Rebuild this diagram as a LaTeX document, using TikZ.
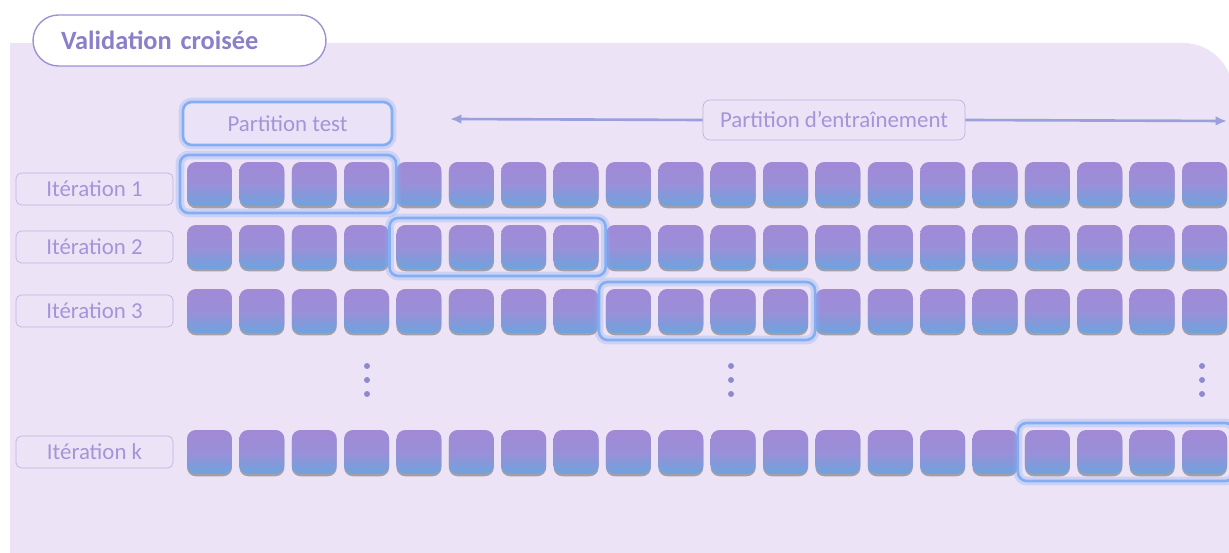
\documentclass[tikz,border=0pt]{standalone}
\usepackage{fontspec}
\setmainfont{Carlito}
\usetikzlibrary{fit,shadows,arrows.meta}
\definecolor{panelbg}{HTML}{EDE3F6}
\definecolor{titleline}{HTML}{9E92D3}
\definecolor{titletext}{HTML}{8A80CA}
\definecolor{labline}{HTML}{BAB5E4}
\definecolor{labtext}{HTML}{A395D8}
\definecolor{glowblue}{HTML}{84AEF4}
\definecolor{testfill}{HTML}{EAE2F7}
\definecolor{arrowcol}{HTML}{9AA0DC}
\definecolor{celltop}{HTML}{A189D6}
\definecolor{cellmid}{HTML}{9A8FD8}
\definecolor{cellbot}{HTML}{6EA3DD}
\definecolor{dotcol}{HTML}{8E8AD0}
\begin{document}
\begin{tikzpicture}[x=0.02cm,y=-0.02cm,
    every node/.style={font=\fontsize{13}{15}\selectfont},
    titlebox/.style={draw=titleline,line width=0.8pt,fill=white,rounded corners=0.51cm,
        minimum width=5.86cm,minimum height=1.02cm,text width=4.74cm,align=left,
        inner xsep=0.56cm,text=titletext,font=\fontsize{15}{17}\selectfont\bfseries},
    glowbox/.style={draw=glowblue,line width=1.5pt,rounded corners=5pt,
        preaction={draw=glowblue,draw opacity=0.3,line width=5pt}},
    groupbox/.style={glowbox,inner sep=3.8pt},
    trainbox/.style={draw=labline,fill=panelbg,rounded corners=4pt,text=labtext,
        minimum width=5.24cm,minimum height=0.8cm},
    trainline/.style={draw=arrowcol,line width=1.5pt},
    iterbox/.style={draw=labline,fill=panelbg,rounded corners=3pt,text=labtext,
        minimum width=3.14cm,minimum height=0.64cm,inner sep=0pt},
    cell/.style={minimum width=0.9cm,minimum height=0.88cm,inner sep=0pt,rounded corners=5pt,
        top color=celltop,bottom color=cellbot,middle color=cellmid,
        drop shadow={shadow xshift=0pt,shadow yshift=-1.3pt,opacity=0.45,fill=black!70}}]
\def\pitch{52.37}
\useasboundingbox (0,0) rectangle (1229,553);
\clip (0,0) rectangle (1229,553);
% fond
\fill[panelbg,rounded corners=1cm] (10,43) rectangle (1233,595);
\fill[panelbg] (10,43) rectangle (600,595);
\node[titlebox] (title) at (179.5,40.5) {Validation croisée};
\node[glowbox,fill=testfill,text=labtext,minimum width=4.18cm,minimum height=0.86cm]
    (test) at (287.5,123.5) {Partition test};
\node[trainbox] (train) at (834,120) {Partition d’entraînement};
\coordinate (trainL) at (450,119);
\coordinate (trainR) at (1227,121);
\draw[trainline,-{Latex[length=6.5pt,width=5.5pt]}] (train.west) -- (trainL);
\draw[trainline,-{Latex[length=6.5pt,width=5.5pt]}] (train.east) -- (trainR);
% iterations
\foreach \r/\y/\ly in {1/184/189,2/247/247,3/311/311,k/452/452}
    {\node[iterbox] (it\r) at (94.5,\ly) {Itération \r};
     \foreach \i in {1,...,20}
        {\node[cell] (c\r-\i) at ({209.5+(\i-1)*\pitch},\y) {};}}
\foreach \r/\a/\b in {1/1/4,2/5/8,3/9/12,k/17/20}
    {\node[groupbox,fit=(c\r-\a)(c\r-\b)] (g\r) {};}
\foreach \x in {367,731,1202}
    {\foreach \y in {366,380,394}
        {\fill[dotcol] (\x,\y) circle (1.7pt);}}
\end{tikzpicture}
\end{document}
